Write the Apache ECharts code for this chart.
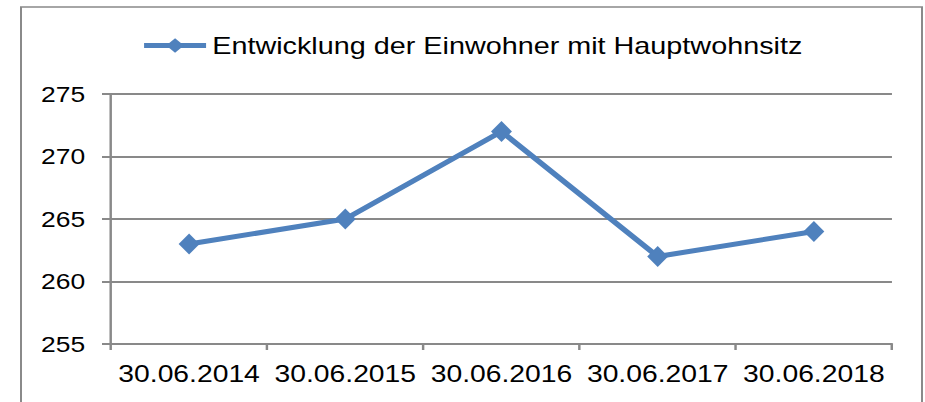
<!DOCTYPE html>
<html>
<head>
<meta charset="utf-8">
<script src="https://cdn.jsdelivr.net/npm/echarts@6/dist/echarts.min.js"></script>
<style>
    html, body { margin: 0; padding: 0; overflow: hidden; background: #fff; }
    /* the reference is drawn horizontally stretched, so the chart is laid out narrower and scaled */
    #chart { width: 752px; height: 402px; transform: scaleX(1.23); transform-origin: 0 0; }
</style>
</head>
<body>
<div id="chart"></div>
<script>
const stretch = 1.23;

const seriesName = 'Entwicklung der Einwohner mit Hauptwohnsitz';
const dates = ['30.06.2014', '30.06.2015', '30.06.2016', '30.06.2017', '30.06.2018'];
const residents = [263, 265, 272, 262, 264];
const yTicks = { min: 255, max: 275, interval: 5 };

const gray = '#898989';
const blue = '#4f81bd';
const font = "'Liberation Sans', Arial, sans-serif";

const chart = echarts.init(document.getElementById('chart'), null, { renderer: 'svg' });

chart.setOption({
    animation: false,
    backgroundColor: '#fff',
    textStyle: { fontFamily: font, color: '#000' },
    graphic: [{
        type: 'rect',
        shape: { x: 21 / stretch, y: 7, width: (922 - 21) / stretch, height: 430 },
        style: { fill: 'none', stroke: gray, lineWidth: 1.6 },
        silent: true
    }],
    legend: {
        left: 141 / stretch,
        top: 34,
        padding: 0,
        itemWidth: 62 / stretch,
        itemHeight: 18,
        itemGap: 10,
        lineStyle: { width: 5 },
        textStyle: { fontSize: 23.4, color: '#000', fontFamily: font },
        data: [seriesName]
    },
    grid: {
        left: 111 / stretch,
        right: (925 - 892) / stretch,
        top: 94,
        bottom: 58,
        containLabel: false
    },
    xAxis: {
        type: 'category',
        data: dates,
        boundaryGap: true,
        axisLine: { lineStyle: { color: gray, width: 2 } },
        axisTick: { show: true, interval: 0, length: 6, lineStyle: { color: gray, width: 2 } },
        axisLabel: { interval: 0, hideOverlap: false, fontSize: 23, color: '#000', margin: 18, fontFamily: font }
    },
    yAxis: {
        type: 'value',
        min: yTicks.min,
        max: yTicks.max,
        interval: yTicks.interval,
        axisLine: { show: true, lineStyle: { color: gray, width: 2 } },
        axisTick: { show: true, length: 9 / stretch, lineStyle: { color: gray, width: 2 } },
        splitLine: { lineStyle: { color: gray, width: 2 } },
        axisLabel: { fontSize: 21.5, color: '#000', margin: 21, fontFamily: font }
    },
    series: [{
        name: seriesName,
        type: 'line',
        data: residents,
        symbol: 'diamond',
        symbolSize: [17, 21],
        lineStyle: { color: blue, width: 5 },
        itemStyle: { color: blue },
        z: 5
    }]
});
</script>
</body>
</html>
